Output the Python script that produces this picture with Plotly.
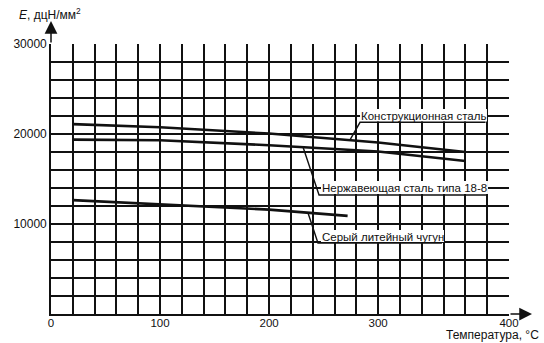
import plotly.graph_objects as go

# ---- data ----
temp_steel = [20, 100, 200, 300, 380]
e_structural = [21100, 20750, 20050, 19050, 18000]
e_stainless = [19380, 19300, 18750, 18050, 17000]
temp_iron = [20, 100, 200, 272]
e_cast_iron = [12650, 12150, 11600, 10900]

label_structural = "Конструкционная сталь"
label_stainless = "Нержавеющая сталь типа 18-8"
label_iron = "Серый литейный чугун"

x_tick_vals = [0, 100, 200, 300, 420]
x_tick_text = ["0", "100", "200", "300", "400"]
y_tick_vals = [10000, 20000, 30000]
y_tick_text = ["10000", "20000", "30000"]

FONT = "Liberation Sans, Arial, sans-serif"
INK = "#111111"
FS = 12
FL = 11.5

fig = go.Figure()
for xs, ys in [(temp_steel, e_structural), (temp_steel, e_stainless), (temp_iron, e_cast_iron)]:
    fig.add_trace(go.Scatter(x=xs, y=ys, mode="lines",
                             line=dict(color=INK, width=2.6), showlegend=False,
                             hoverinfo="skip"))

shapes = []
annotations = []

def label(text, box, leader, under_end, center):
    # white box behind text
    shapes.append(dict(type="rect", xref="x", yref="y", x0=box[0], x1=box[1], y0=box[2], y1=box[3],
                       fillcolor="white", line=dict(width=0), layer="above"))
    # leader line + underline
    shapes.append(dict(type="path", xref="x", yref="y",
                       path=f"M {leader[0]},{leader[1]} L {leader[2]},{leader[3]} L {under_end},{leader[3]}",
                       line=dict(color=INK, width=1.4), layer="above"))
    annotations.append(dict(x=center[0], y=center[1], xref="x", yref="y", text=text,
                            showarrow=False, font=dict(family=FONT, size=FL, color=INK)))

label(label_structural, (283.4, 399.8, 21389, 22778), (274.2, 19350, 283.4, 21300), 398.5, (341.5, 22000))
label(label_stainless, (247.6, 400.7, 13333, 14778), (231.1, 18550, 245.8, 13222), 399.8, (324.2, 14000))
label(label_iron, (247.6, 360.4, 8000, 9333), (235.7, 11222, 244.8, 7889), 358.5, (304.0, 8556))

# axis arrows
annotations.append(dict(x=0, y=1 + 23 / 270, xref="x", yref="paper", ax=0, ay=23,
                        axref="pixel", ayref="pixel", text="", showarrow=True,
                        arrowhead=2, arrowsize=1.7, arrowwidth=1.5, arrowcolor=INK))
annotations.append(dict(x=1 + 23 / 458, y=0, xref="paper", yref="y", ax=-23, ay=0,
                        text="", showarrow=True,
                        arrowhead=2, arrowsize=1.7, arrowwidth=1.5, arrowcolor=INK))
# axis titles
annotations.append(dict(x=-34 / 458, y=1 + 30 / 270, xref="paper", yref="paper",
                        xanchor="left", yanchor="middle", showarrow=False,
                        text="<i>E</i>, дцН/мм<sup>2</sup>",
                        font=dict(family=FONT, size=FS, color=INK)))
annotations.append(dict(x=1 + 32 / 458, y=-21 / 270, xref="paper", yref="paper",
                        xanchor="right", yanchor="middle", showarrow=False,
                        text="Температура, °С",
                        font=dict(family=FONT, size=FS, color=INK)))

fig.update_layout(
    width=544, height=343,
    margin=dict(l=51, r=35, t=44, b=29),
    paper_bgcolor="white", plot_bgcolor="white",
    shapes=shapes, annotations=annotations,
    font=dict(family=FONT, size=FS, color=INK),
)
fig.update_xaxes(range=[0, 420], tickvals=x_tick_vals, ticktext=x_tick_text,
                 showgrid=True, gridcolor=INK, gridwidth=1.6,
                 minor=dict(dtick=20, tick0=0, showgrid=True, gridcolor=INK, gridwidth=1.6),
                 showline=True, linecolor=INK, linewidth=1.6, zeroline=False,
                 ticks="", ticklabelstandoff=-3,
                 tickfont=dict(family=FONT, size=FL, color=INK))
fig.update_yaxes(range=[0, 30000], tickvals=y_tick_vals, ticktext=y_tick_text,
                 showgrid=True, gridcolor=INK, gridwidth=1.6,
                 minor=dict(dtick=2000, tick0=0, showgrid=True, gridcolor=INK, gridwidth=1.6),
                 showline=True, linecolor=INK, linewidth=1.6, zeroline=False,
                 ticks="", tickfont=dict(family=FONT, size=FS, color=INK))

fig.write_html("out.html")
